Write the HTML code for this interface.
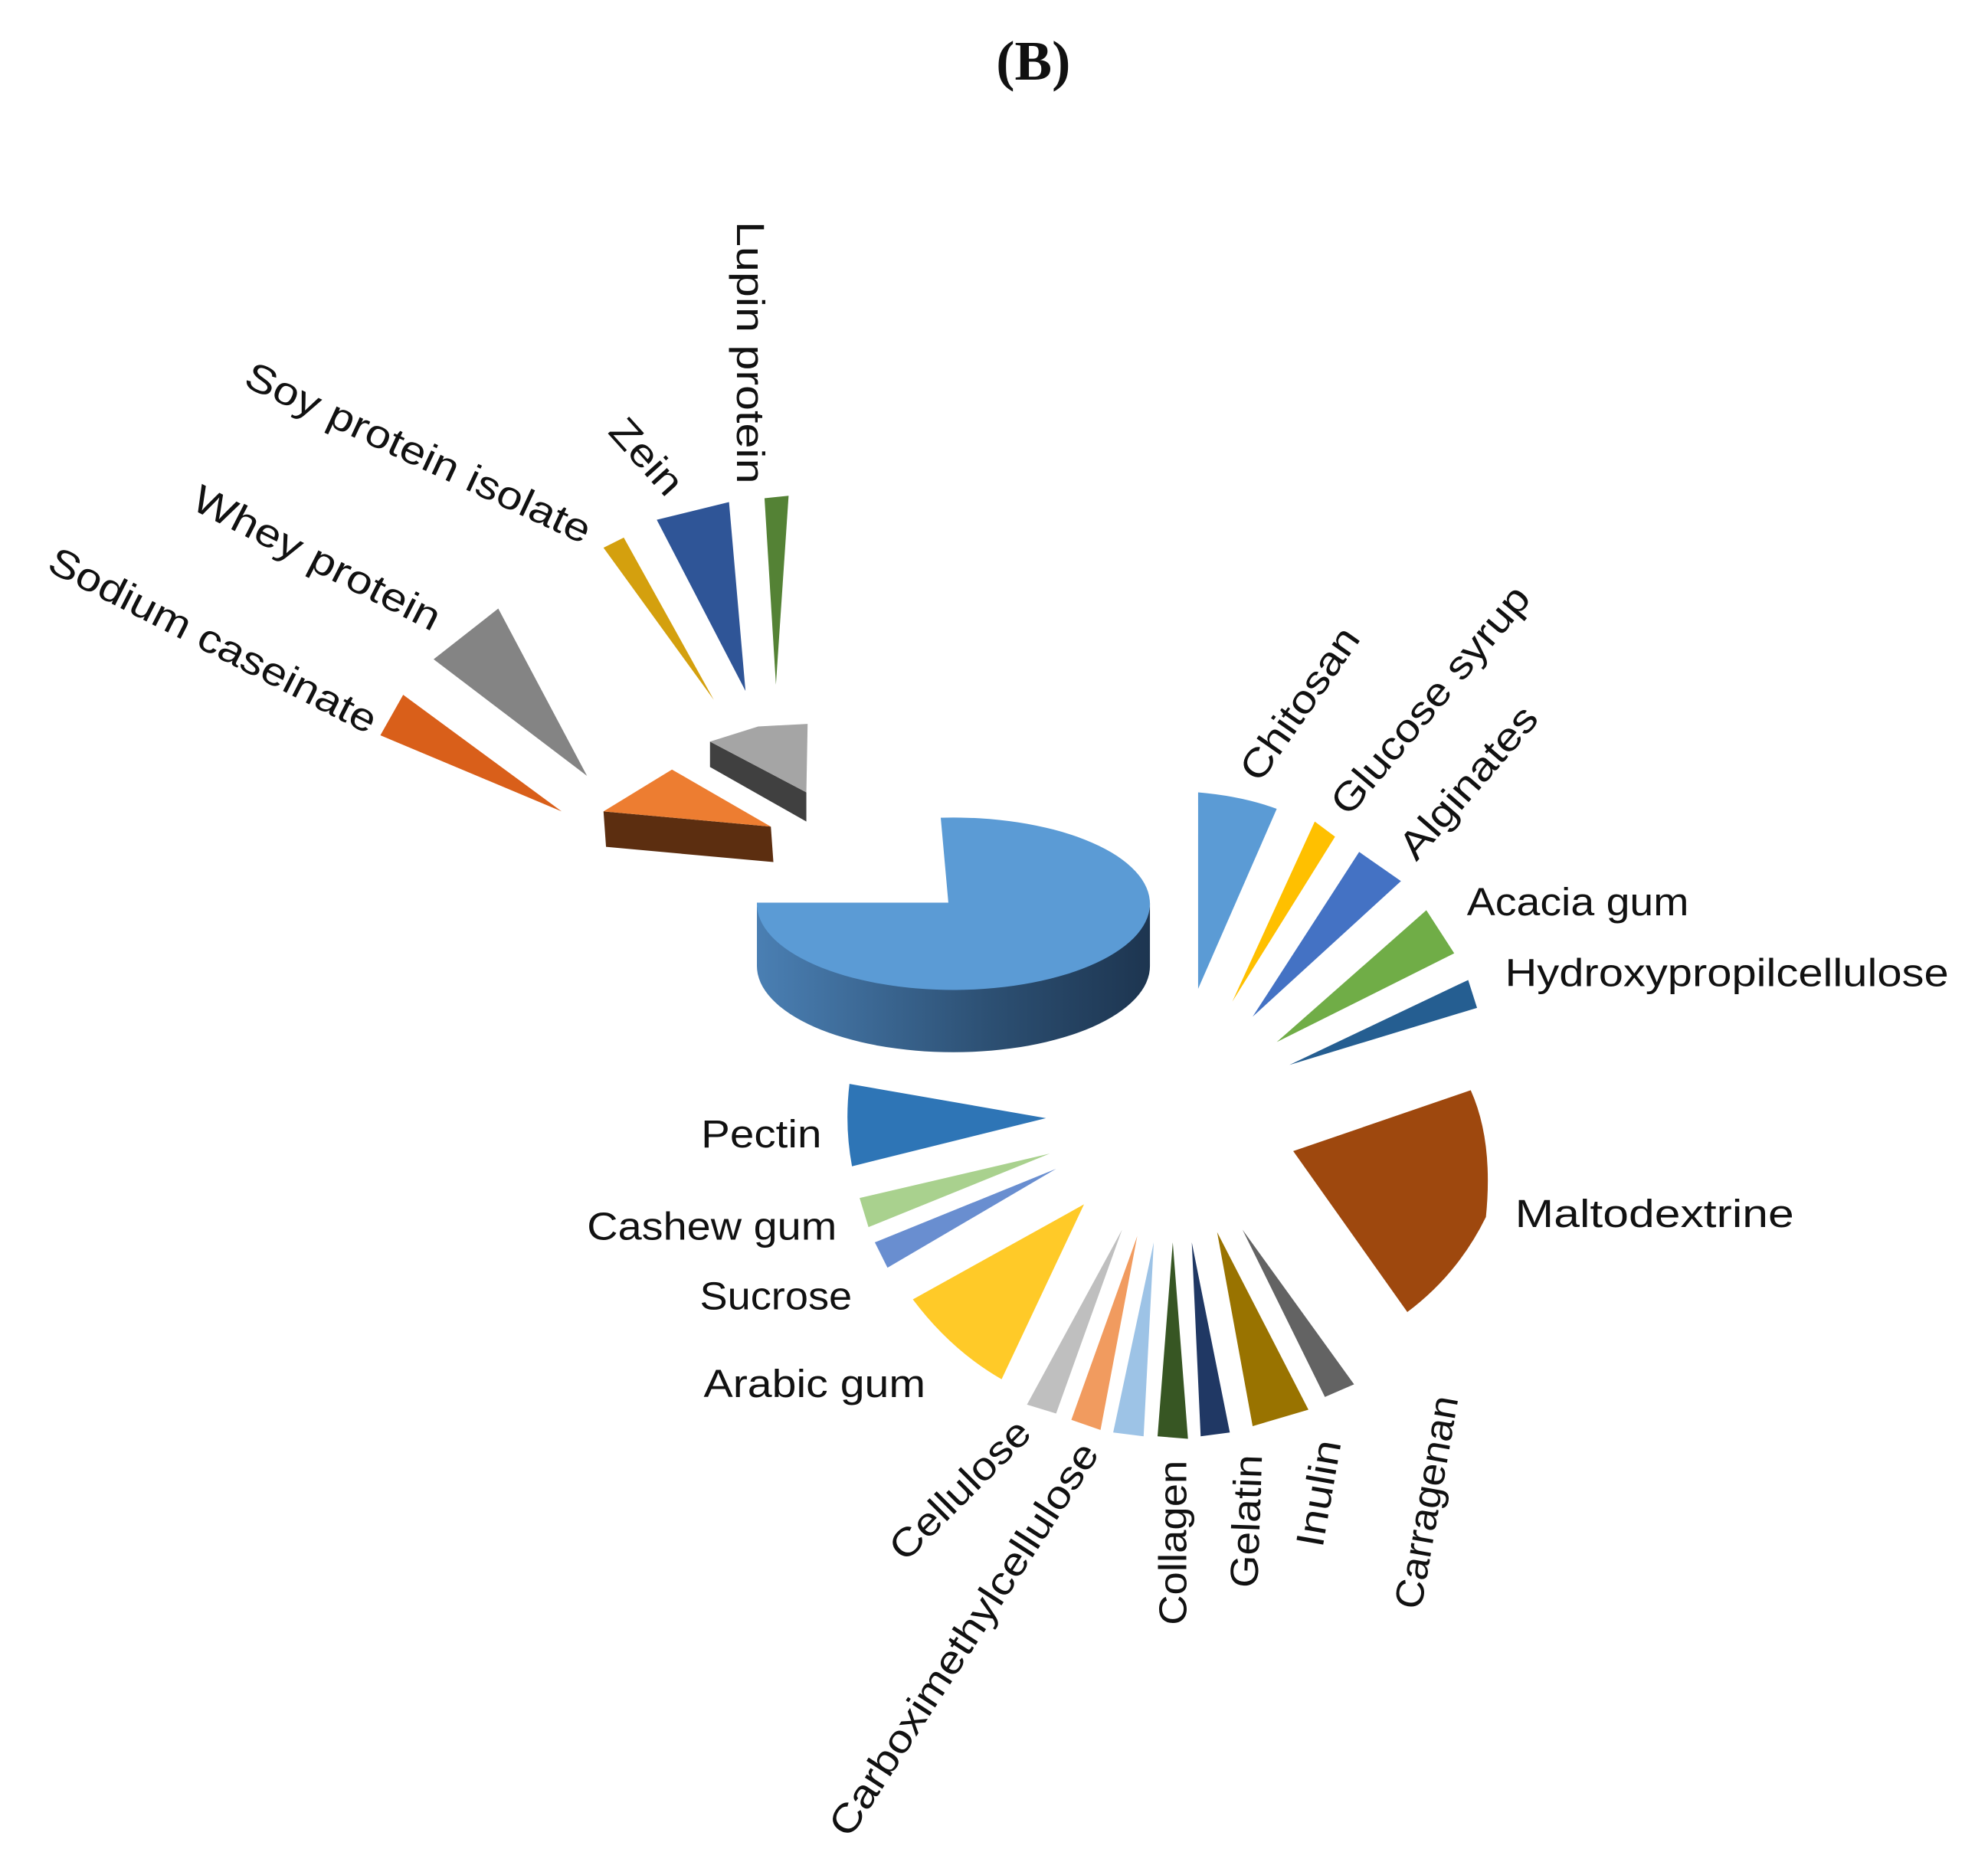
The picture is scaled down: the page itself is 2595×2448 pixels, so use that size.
<!DOCTYPE html>
<html><head><meta charset="utf-8"><style>
html,body{margin:0;padding:0;background:#fff;}
svg{display:block}
text{font-family:"Liberation Sans",sans-serif;font-size:31px;fill:#111;}
</style></head><body>
<svg width="2595" height="2448" viewBox="0 0 1568 1479" xmlns="http://www.w3.org/2000/svg">
<defs>
<linearGradient id="side" x1="0" x2="1" y1="0" y2="0">
<stop offset="0" stop-color="#4a7fb3"/><stop offset="0.6" stop-color="#2c4f72"/><stop offset="1" stop-color="#1d3550"/>
</linearGradient>
</defs>
<text x="815" y="48" text-anchor="middle" dominant-baseline="central" style="font-family:'Liberation Serif',serif;font-weight:bold;font-size:44px">(B)</text>

<!-- big pie -->
<path d="M597,712 A155,68 0 0,0 907,712 L907,762 A155,68 0 0,1 597,762 Z" fill="url(#side)"/>
<path d="M748,712 L742,645 A155,68 0 1,1 597,712 Z" fill="#5b9bd5"/>

<!-- 3D wedges -->
<polygon points="560,585 636,625 636,648 560,605" fill="#404040"/>
<polygon points="560,585 598,573 637,571 636,625" fill="#a5a5a5"/>
<polygon points="476,640 608,652 610,680 478,668" fill="#5c2e10"/>
<polygon points="476,640 530,607 608,652" fill="#ed7d31"/>

<!-- upper left wedges -->
<polygon points="300,580 318,548 443,640" fill="#d95f1a"/>
<polygon points="342,520 393,480 463,612" fill="#848484"/>
<polygon points="476,432 492,424 563,552" fill="#d4a00e"/>
<polygon points="518,410 575,396 588,545" fill="#2f5597"/>
<polygon points="603,393 622,391 612,540" fill="#548235"/>

<!-- right wedges -->
<path d="M945,625 Q980,628 1007,638 L945,780 Z" fill="#5b9bd5"/>
<polygon points="1037,648 1053,660 972,790" fill="#ffc000"/>
<polygon points="1072,672 1105,695 988,802" fill="#4472c4"/>
<polygon points="1125,718 1147,752 1007,822" fill="#70ad47"/>
<polygon points="1158,773 1165,795 1017,840" fill="#255e91"/>
<path d="M1020,908 L1160,860 Q1178,900 1172,960 Q1150,1005 1110,1035 Z" fill="#9e480e"/>

<!-- lower wedges -->
<path d="M670,855 L825,882 L672,920 Q666,888 670,855 Z" fill="#2e75b6"/>
<polygon points="678,945 828,910 685,968" fill="#a9d18e"/>
<polygon points="690,980 833,922 700,1000" fill="#698ed0"/>
<path d="M720,1025 L855,950 L790,1088 Q750,1065 720,1025 Z" fill="#ffca28"/>
<polygon points="810,1108 885,970 833,1115" fill="#bfbfbf"/>
<polygon points="845,1120 897,975 868,1128" fill="#f19b5f"/>
<polygon points="878,1130 910,980 902,1133" fill="#9dc3e6"/>
<polygon points="913,1133 925,980 937,1135" fill="#375623"/>
<polygon points="947,1133 940,980 970,1130" fill="#203864"/>
<polygon points="988,1125 960,972 1032,1112" fill="#997300"/>
<polygon points="1045,1102 980,970 1068,1092" fill="#636363"/>

<!-- labels -->
<g text-anchor="middle" dominant-baseline="central">
<text transform="translate(592,278) rotate(90)" textLength="207" lengthAdjust="spacingAndGlyphs">Lupin protein</text>
<text transform="translate(510,360) rotate(48)" textLength="70" lengthAdjust="spacingAndGlyphs">Zein</text>
<text transform="translate(330,357) rotate(25)" textLength="297" lengthAdjust="spacingAndGlyphs">Soy protein isolate</text>
<text transform="translate(250,440) rotate(27)" textLength="215" lengthAdjust="spacingAndGlyphs">Whey protein</text>
<text transform="translate(168,505) rotate(27)" textLength="286" lengthAdjust="spacingAndGlyphs">Sodium caseinate</text>
<text transform="translate(1025,555) rotate(-55)" textLength="140" lengthAdjust="spacingAndGlyphs">Chitosan</text>
<text transform="translate(1128,552) rotate(-50)" textLength="225" lengthAdjust="spacingAndGlyphs">Glucose syrup</text>
<text transform="translate(1158,617) rotate(-49)" textLength="149" lengthAdjust="spacingAndGlyphs">Alginates</text>
<text transform="translate(757,1175) rotate(-45)" textLength="143" lengthAdjust="spacingAndGlyphs">Cellulose</text>
<text transform="translate(760,1293) rotate(-57)" textLength="363" lengthAdjust="spacingAndGlyphs">Carboximethylcellulose</text>
<text transform="translate(925,1217) rotate(-90)" textLength="130" lengthAdjust="spacingAndGlyphs">Collagen</text>
<text transform="translate(983,1200) rotate(-88)" textLength="105" lengthAdjust="spacingAndGlyphs">Gelatin</text>
<text transform="translate(1040,1178) rotate(-80)" textLength="85" lengthAdjust="spacingAndGlyphs">Inulin</text>
<text transform="translate(1125,1185) rotate(-80)" textLength="170" lengthAdjust="spacingAndGlyphs">Carragenan</text>
</g>
<text x="1157" y="722" textLength="175" lengthAdjust="spacingAndGlyphs">Acacia gum</text>
<text x="1187" y="778" textLength="350" lengthAdjust="spacingAndGlyphs">Hydroxypropilcellulose</text>
<text x="1195" y="968" textLength="220" lengthAdjust="spacingAndGlyphs">Maltodextrine</text>
<text x="553" y="905" textLength="95" lengthAdjust="spacingAndGlyphs">Pectin</text>
<text x="463" y="978" textLength="197" lengthAdjust="spacingAndGlyphs">Cashew gum</text>
<text x="552" y="1033" textLength="120" lengthAdjust="spacingAndGlyphs">Sucrose</text>
<text x="555" y="1102" textLength="175" lengthAdjust="spacingAndGlyphs">Arabic gum</text>
</svg>
</body></html>
